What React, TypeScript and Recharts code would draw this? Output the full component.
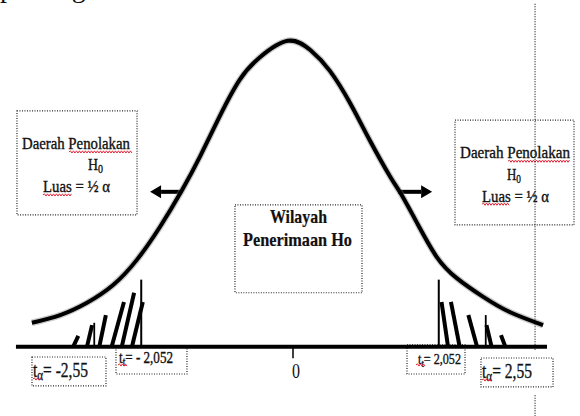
import { ComposedChart, Line, XAxis, YAxis, ReferenceLine, ReferenceArea } from "recharts";

// t-values and curve heights
const curveT = [-3.56, -3.17, -2.8, -2.44, -2.11, -1.79, -1.49, -1.24, -0.97, -0.69, -0.41, -0.03, 0.28, 0.55, 0.83, 1.1, 1.38, 1.52, 1.75, 2.02, 2.3, 2.66, 3.03, 3.49];
const curveF = [0.031, 0.041, 0.057, 0.08, 0.113, 0.156, 0.203, 0.247, 0.299, 0.347, 0.376, 0.397, 0.385, 0.358, 0.316, 0.268, 0.221, 0.2, 0.161, 0.117, 0.089, 0.065, 0.045, 0.028];

// critical values (t table) and their line heights
const criticalT = [-2.052, 2.052];
const criticalTopF = [0.087, 0.087];

// thick hatch strokes in both rejection tails
const hatchBaseT = [-2.99, -2.8, -2.63, -2.46, -2.32, -2.18, 2.18, 2.34, 2.58, 2.78, 2.97];
const hatchTopT = [-2.92, -2.73, -2.54, -2.29, -2.15, -2.03, 2.09, 2.22, 2.46, 2.71, 2.91];
const hatchTopF = [0.014, 0.028, 0.041, 0.058, 0.07, 0.058, 0.058, 0.058, 0.041, 0.028, 0.015];

// thin upright strokes
const thinT = [-2.7, 2.7];
const thinTopF = [0.031, 0.041];

// arrows pointing out to the rejection regions
const arrowFromT = [-1.49, 1.49];
const arrowToT = [-1.93, 1.96];
const arrowF = [0.201, 0.201];

const axisFromT = -3.78;
const axisToT = 3.545;
const guideT = 3.38;

const rejectTitle = "Daerah Penolakan";
const rejectArea = "Luas = ½ α";
const acceptLines = ["Wilayah", "Penerimaan Ho"];
const critLabels = ["= - 2,052", "= 2,052"];
const alphaLabels = ["= -2,55", "= 2,55"];

const curveData = curveT.map((t, i) => ({ t, f: curveF[i] }));

const serif = "'Liberation Serif', 'Times New Roman', serif";

type Part = { s: string; sub?: boolean };
type TextLine = { x: number; y: number; w: number; size: number; bold?: boolean; parts: Part[]; wave?: [number, number, number] };

const wave = (x0: number, x1: number, y: number) => {
  let d = `M${x0},${y}`;
  let up = true;
  for (let x = x0 + 1.5; x <= x1; x += 1.5) {
    d += ` L${x},${y + (up ? -1.1 : 1.1)}`;
    up = !up;
  }
  return d;
};

const boxShape = (lines: TextLine[]) => (p: any) => {
  const { x, y, width, height } = p;
  return (
    <g>
      <rect x={x} y={y} width={width} height={height} fill="none" stroke="#222" strokeWidth={1.2} strokeDasharray="1 1.5" />
      {lines.map((l, i) => {
        let wasSub = false;
        return (
          <g key={i}>
            <text
              x={x + l.x}
              y={y + l.y}
              fontSize={l.size}
              fontWeight={l.bold ? 700 : 400}
              fontFamily={serif}
              fill="#111"
              stroke="#111"
              strokeWidth={l.bold ? 0.2 : 0.35}
              textLength={l.w}
              lengthAdjust="spacingAndGlyphs"
            >
              {l.parts.map((pt, j) => {
                const dy = pt.sub ? 3 : wasSub ? -3 : 0;
                wasSub = !!pt.sub;
                return (
                  <tspan key={j} dy={dy} fontSize={pt.sub ? l.size * 0.72 : l.size}>
                    {pt.s}
                  </tspan>
                );
              })}
            </text>
            {l.wave && (
              <path d={wave(x + l.wave[0], x + l.wave[1], y + l.wave[2])} fill="none" stroke="#e3263a" strokeWidth={1} />
            )}
          </g>
        );
      })}
    </g>
  );
};

const arrowShape = (p: any) => {
  const { x1, y1, x2, y2 } = p;
  const dir = Math.sign(x2 - x1);
  const bx = x2 - dir * 11;
  return (
    <g>
      <line x1={x1} y1={y1} x2={bx} y2={y2} stroke="#000" strokeWidth={4} />
      <polygon points={`${x2},${y2} ${bx},${y2 - 6.5} ${bx},${y2 + 6.5}`} fill="#000" />
    </g>
  );
};

const zeroTick = (p: any) => {
  const { x1, y1, x2, y2 } = p;
  return (
    <g>
      <line x1={x1 + 3} y1={y1} x2={x2 + 3} y2={y2} stroke="#000" strokeWidth={1.5} />
      <text x={x1 + 6} y={y2 + 20} fontSize={22} fontFamily={serif} textAnchor="middle" textLength={8} lengthAdjust="spacingAndGlyphs" fill="#111">
        0
      </text>
    </g>
  );
};

const leftBox: TextLine[] = [
  { x: 5, y: 38, w: 108, size: 16, parts: [{ s: rejectTitle }], wave: [52, 115, 41] },
  { x: 71, y: 59, w: 15, size: 16, parts: [{ s: "H" }, { s: "0", sub: true }] },
  { x: 26, y: 81, w: 67, size: 16, parts: [{ s: rejectArea }], wave: [26, 55, 84] },
];
const rightBox: TextLine[] = [
  { x: 5, y: 38, w: 110, size: 16, parts: [{ s: rejectTitle }], wave: [53, 115, 41] },
  { x: 52, y: 60, w: 14, size: 16, parts: [{ s: "H" }, { s: "0", sub: true }] },
  { x: 27, y: 82, w: 67, size: 16, parts: [{ s: rejectArea }], wave: [27, 55, 84] },
];
const middleBox: TextLine[] = [
  { x: 35, y: 18, w: 57, size: 19, bold: true, parts: [{ s: acceptLines[0] }] },
  { x: 8, y: 41, w: 109, size: 19, bold: true, parts: [{ s: acceptLines[1] }] },
];
const alphaLeft: TextLine[] = [
  { x: 1, y: 20, w: 55, size: 21, parts: [{ s: "t" }, { s: "α", sub: true }, { s: alphaLabels[0] }], wave: [1, 11, 22] },
];
const critLeft: TextLine[] = [
  { x: 3, y: 16, w: 54, size: 16, parts: [{ s: "t" }, { s: "t", sub: true }, { s: critLabels[0] }], wave: [2, 11, 18] },
];
const critRight: TextLine[] = [
  { x: 11, y: 19, w: 43, size: 15, parts: [{ s: "t" }, { s: "t", sub: true }, { s: critLabels[1] }], wave: [9, 18, 20] },
];
const alphaRight: TextLine[] = [
  { x: 1, y: 20, w: 50, size: 21, parts: [{ s: "t" }, { s: "α", sub: true }, { s: alphaLabels[1] }], wave: [1, 11, 22] },
];

export default function App() {
  return (
    <div style={{ position: "absolute", left: 0, top: 0, width: 580, height: 416, background: "#fff" }}>
      <ComposedChart width={580} height={416} data={curveData} margin={{ top: 0, right: 0, bottom: 0, left: 0 }}>
        <XAxis type="number" dataKey="t" domain={[-4, 4]} allowDataOverflow hide />
        <YAxis type="number" domain={[-0.09, 0.45]} allowDataOverflow hide />

        <ReferenceArea x1={-3.766} x2={-2.11} y1={0.171} y2={0.306} shape={boxShape(leftBox)} />
        <ReferenceArea x1={2.276} x2={3.917} y1={0.158} y2={0.294} shape={boxShape(rightBox)} />
        <ReferenceArea x1={-0.759} x2={0.993} y1={0.07} y2={0.184} shape={boxShape(middleBox)} />
        <ReferenceArea x1={-3.559} x2={-2.538} y1={-0.051} y2={-0.0134} shape={boxShape(alphaLeft)} />
        <ReferenceArea x1={-2.4} x2={-1.421} y1={-0.0355} y2={-0.0004} shape={boxShape(critLeft)} />
        <ReferenceArea x1={1.614} x2={2.414} y1={-0.0355} y2={0.0022} shape={boxShape(critRight)} />
        <ReferenceArea x1={2.634} x2={3.628} y1={-0.0523} y2={-0.0147} shape={boxShape(alphaRight)} />

        <ReferenceLine segment={[{ x: guideT, y: 0.445 }, { x: guideT, y: -0.004 }]} stroke="#222" strokeWidth={1.2} strokeDasharray="1 1.5" />
        <ReferenceLine segment={[{ x: guideT, y: -0.063 }, { x: guideT, y: -0.09 }]} stroke="#222" strokeWidth={1.2} strokeDasharray="1 1.5" />

        {hatchBaseT.map((t, i) => (
          <ReferenceLine key={`h${i}`} segment={[{ x: t, y: 0 }, { x: hatchTopT[i], y: hatchTopF[i] }]} stroke="#000" strokeWidth={4} />
        ))}
        {thinT.map((t, i) => (
          <ReferenceLine key={`s${i}`} segment={[{ x: t, y: 0 }, { x: t, y: thinTopF[i] }]} stroke="#000" strokeWidth={1.8} />
        ))}
        {criticalT.map((t, i) => (
          <ReferenceLine key={`c${i}`} segment={[{ x: t, y: 0 }, { x: t, y: criticalTopF[i] }]} stroke="#000" strokeWidth={2} />
        ))}
        {arrowFromT.map((t, i) => (
          <ReferenceLine key={`a${i}`} segment={[{ x: t, y: arrowF[i] }, { x: arrowToT[i], y: arrowF[i] }]} shape={arrowShape} />
        ))}

        <ReferenceLine segment={[{ x: axisFromT, y: 0 }, { x: axisToT, y: 0 }]} stroke="#000" strokeWidth={4} />
        <ReferenceLine segment={[{ x: 0, y: 0 }, { x: 0, y: -0.015 }]} shape={zeroTick} />

        <Line dataKey="f" type="natural" stroke="#777" strokeOpacity={0.4} strokeWidth={6.5} dot={false} isAnimationActive={false} />
        <Line dataKey="f" type="natural" stroke="#000" strokeWidth={4} dot={false} isAnimationActive={false} />
      </ComposedChart>
      <svg width={580} height={12} style={{ position: "absolute", left: 0, top: 0 }}>
        <text x={0} y={-3} fontSize={28} fontFamily={serif} wordSpacing={12} fill="#111">
          pada gambar
        </text>
      </svg>
    </div>
  );
}
